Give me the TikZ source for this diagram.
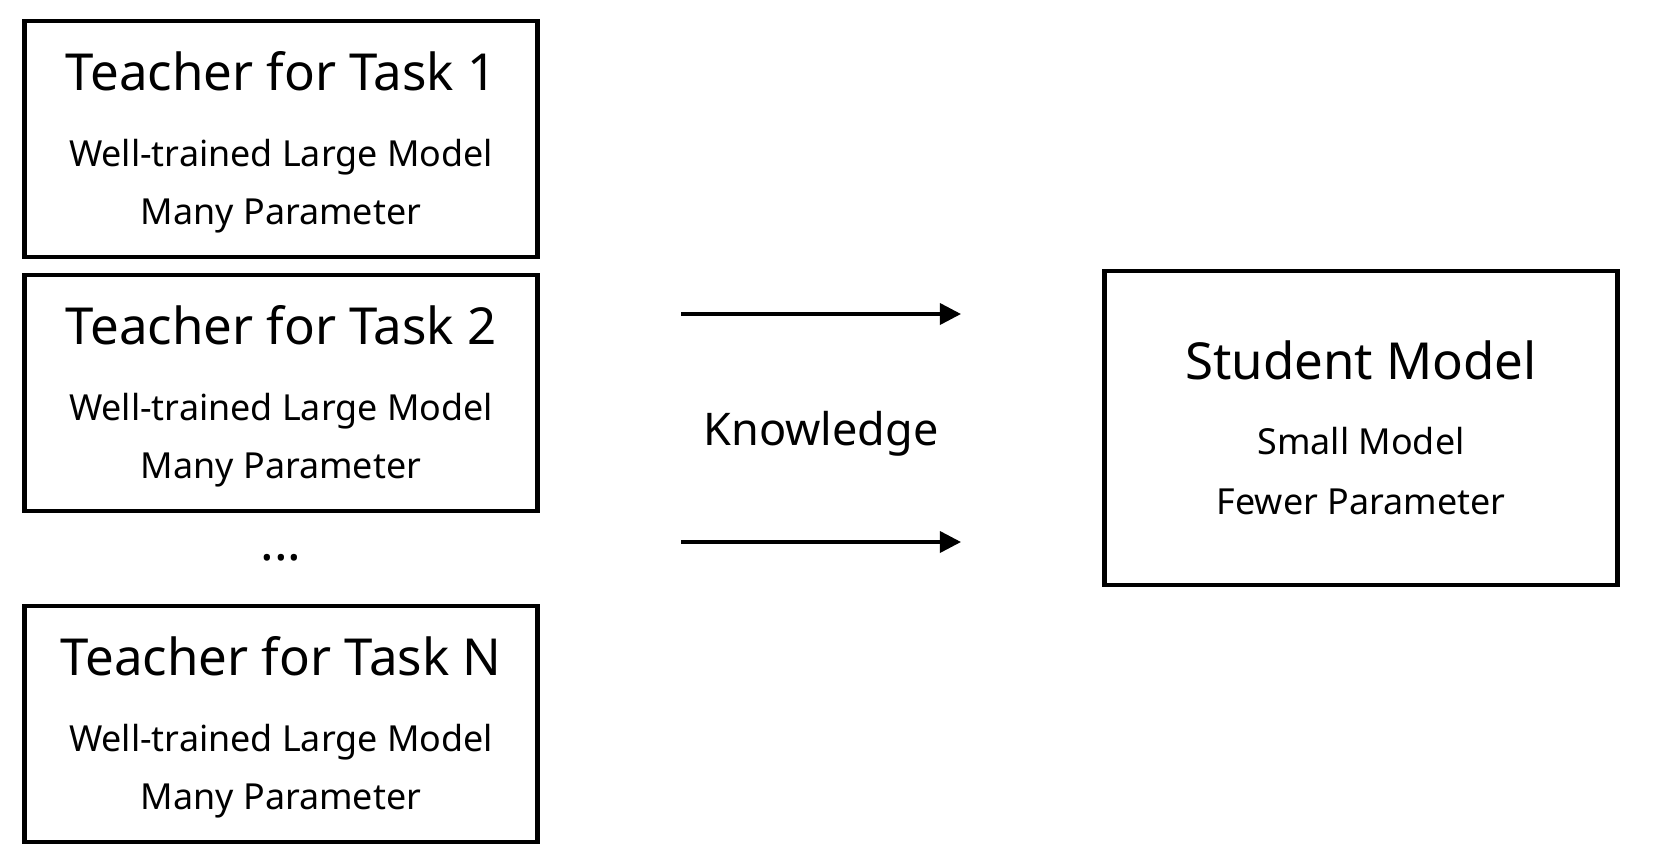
\documentclass[tikz,border=0pt]{standalone}
\usepackage{fontspec}
\setmainfont{Noto Sans}
\usetikzlibrary{arrows.meta, positioning, calc}

\tikzset{
  modelbox/.style={draw, line width=1.35pt, minimum width=5.13cm, minimum height=2.36cm, inner sep=0pt},
  headtext/.style={font=\fontsize{14.5}{17}\selectfont, anchor=base, inner sep=0pt},
  subtext/.style={font=\fontsize{10.2}{13}\selectfont, anchor=base, inner sep=0pt},
  knowarrow/.style={-{Triangle[length=0.21cm, width=0.21cm]}, line width=1pt}
}

\begin{document}
\begin{tikzpicture}[x=0.01cm, y=-0.01cm]
	\useasboundingbox (0,0) rectangle (1656,866);
	% teachers
	\foreach \name/\cy/\task in {t1/139/1, t2/393/2, tn/724/N} {
		\node[modelbox] (\name) at (281,\cy) {};
		\node[headtext] (\name-head) at ($(\name.north)+(0,72)$) {Teacher for Task \task};
		\node[subtext] (\name-size) at ($(\name.north)+(0,148)$) {Well-trained Large Model};
		\node[subtext] (\name-param) at ($(\name.north)+(0,206)$) {Many Parameter};
	}
	\node[headtext] (dots) at (281,560) {...};
	% student
	\node[modelbox, minimum height=3.14cm] (student) at (1361,428) {};
	\node[headtext] (student-head) at ($(student.north)+(0,111)$) {Student Model};
	\node[subtext] (student-size) at ($(student.north)+(0,186)$) {Small Model};
	\node[subtext] (student-param) at ($(student.north)+(0,246)$) {Fewer Parameter};
	% knowledge transfer
	\node[font=\fontsize{12.8}{15}\selectfont, anchor=base, inner sep=0pt] (know) at (821,445) {Knowledge};
	\coordinate (up-from) at (681,314);
	\coordinate (up-to) at (961,314);
	\coordinate (low-from) at (681,542);
	\coordinate (low-to) at (961,542);
	\draw[knowarrow] (up-from) -- (up-to);
	\draw[knowarrow] (low-from) -- (low-to);
\end{tikzpicture}
\end{document}
